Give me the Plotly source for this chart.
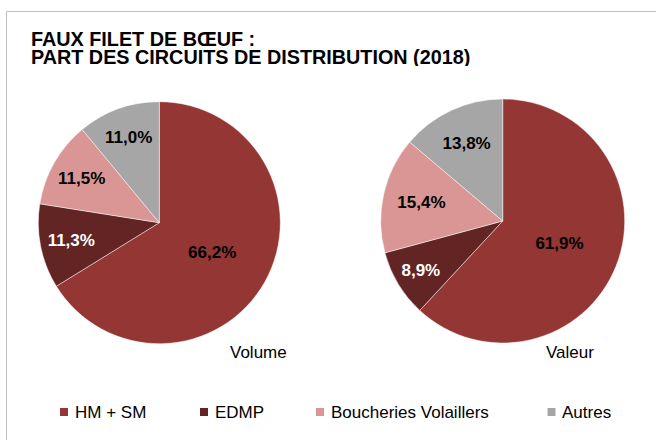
import plotly.graph_objects as go

categories = ["HM + SM", "EDMP", "Boucheries Volaillers", "Autres"]
volume_values = [66.2, 11.3, 11.5, 11.0]
valeur_values = [61.9, 8.9, 15.4, 13.8]
pie_names = ["Volume", "Valeur"]
colors = ["#943634", "#632523", "#D99694", "#A6A6A6"]
text_colors = ["#000000", "#FFFFFF", "#000000", "#000000"]
title_lines = ["FAUX FILET DE BŒUF :", "PART DES CIRCUITS DE DISTRIBUTION (2018)"]

W, H = 656, 440
FONT = "Liberation Sans, Arial, sans-serif"


def px(x):
    return x / W


def py(y):
    return 1 - y / H


def fmt(v):
    return "<b>" + f"{v:.1f}".replace(".", ",") + "%</b>"


fig = go.Figure()

pie_layout = [
    dict(cx=159.3, cy=222.7, r=121),
    dict(cx=502.7, cy=221.0, r=122),
]

for vals, geo, name in zip([volume_values, valeur_values], pie_layout, pie_names):
    fig.add_trace(go.Pie(
        labels=categories,
        values=vals,
        name=name,
        text=[fmt(v) for v in vals],
        textinfo="text",
        textposition="inside",
        insidetextorientation="horizontal",
        textfont=dict(family=FONT, size=17, color=text_colors),
        marker=dict(colors=colors, line=dict(color="rgba(255,255,255,0.6)", width=0.8)),
        sort=False,
        direction="clockwise",
        rotation=0,
        showlegend=False,
        hoverinfo="label+text",
        domain=dict(
            x=[px(geo["cx"] - geo["r"]), px(geo["cx"] + geo["r"])],
            y=[py(geo["cy"] + geo["r"]), py(geo["cy"] - geo["r"])],
        ),
    ))

annotations = []
# Title
for i, line in enumerate(title_lines):
    annotations.append(dict(
        text=f"<b>{line}</b>", x=px(29), y=py(38.5 + 18.7 * i),
        xref="paper", yref="paper", xanchor="left", yanchor="middle",
        height=18, showarrow=False,
        font=dict(family=FONT, size=19.8, color="#000000"),
    ))
# Pie captions
for name, (x, y) in zip(pie_names, [(258.3, 352.5), (569.5, 352.5)]):
    annotations.append(dict(
        text=name, x=px(x), y=py(y), xref="paper", yref="paper",
        xanchor="center", yanchor="middle", showarrow=False,
        font=dict(family=FONT, size=17, color="#000000"),
    ))

shapes = [
    dict(type="rect", xref="paper", yref="paper",
         x0=px(6.5), x1=px(W + 10), y0=py(H + 10), y1=py(11.5),
         line=dict(color="#BFBFBF", width=1), fillcolor="rgba(0,0,0,0)"),
]

# Custom legend
legend_sq_x = [64, 204, 320, 551.5]
legend_y = 412
for cat, col, sx in zip(categories, colors, legend_sq_x):
    shapes.append(dict(type="rect", xref="paper", yref="paper",
                       x0=px(sx - 4), x1=px(sx + 4), y0=py(legend_y + 4), y1=py(legend_y - 4),
                       line=dict(width=0), fillcolor=col))
    annotations.append(dict(
        text=cat, x=px(sx + 8.5), y=py(legend_y + 0.5), xref="paper", yref="paper",
        xanchor="left", yanchor="middle", showarrow=False,
        font=dict(family=FONT, size=17, color="#000000"),
    ))

fig.update_layout(
    width=W, height=H,
    margin=dict(l=0, r=0, t=0, b=0),
    paper_bgcolor="#FFFFFF",
    plot_bgcolor="#FFFFFF",
    annotations=annotations,
    shapes=shapes,
    font=dict(family=FONT),
)

fig.write_html(
    "out.html",
    config={"displayModeBar": False},
    post_script="document.body.style.margin='0';document.body.style.padding='0';"
                "document.body.style.overflow='hidden';",
)
